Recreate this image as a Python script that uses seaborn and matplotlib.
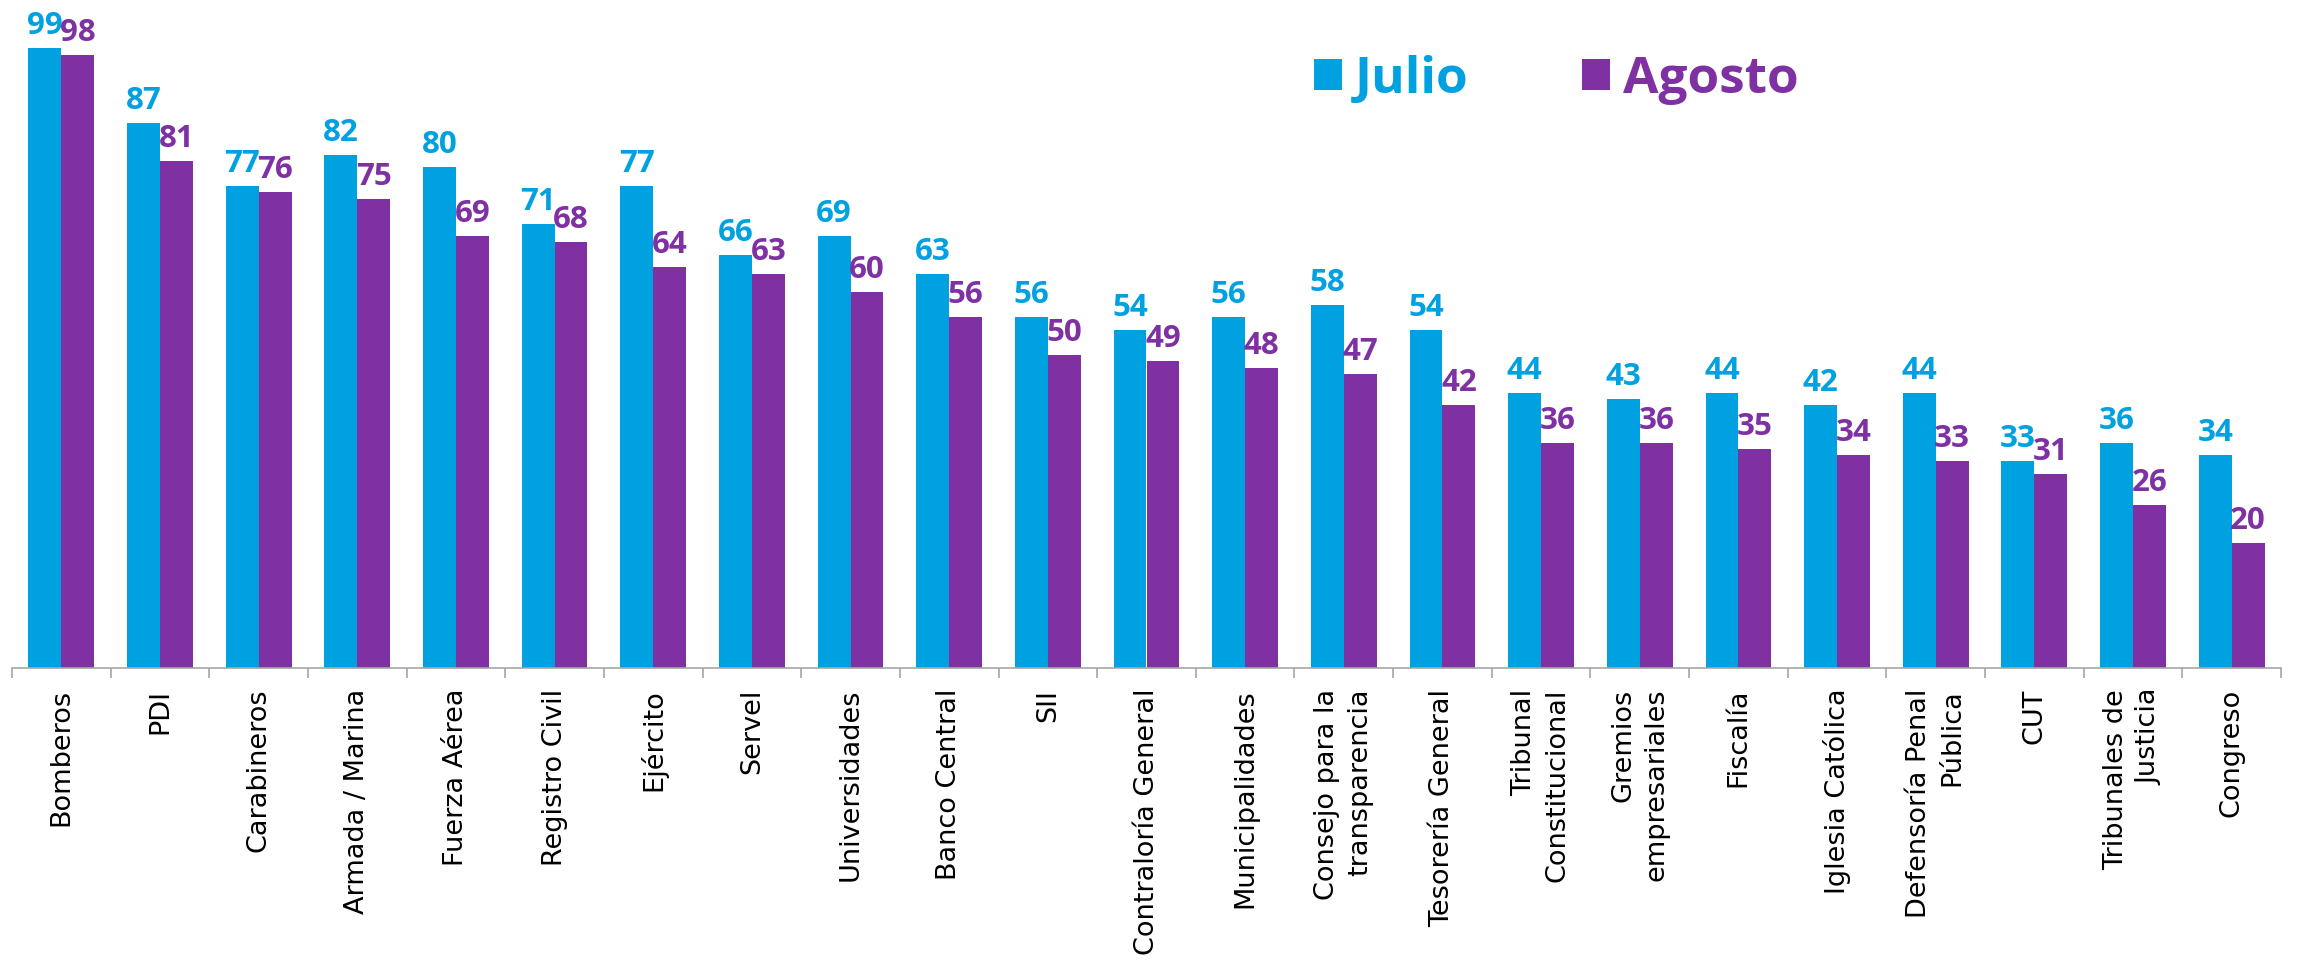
import matplotlib
matplotlib.use("Agg")
import matplotlib.pyplot as plt
import seaborn as sns
import pandas as pd
import numpy as np

categories = ["Bomberos", "PDI", "Carabineros", "Armada / Marina", "Fuerza Aérea",
              "Registro Civil", "Ejército", "Servel", "Universidades", "Banco Central",
              "SII", "Contraloría General", "Municipalidades", "Consejo para la\ntransparencia",
              "Tesorería General", "Tribunal\nConstitucional", "Gremios\nempresariales",
              "Fiscalía", "Iglesia Católica", "Defensoría Penal\nPública", "CUT",
              "Tribunales de\nJusticia", "Congreso"]
julio = [99, 87, 77, 82, 80, 71, 77, 66, 69, 63, 56, 54, 56, 58, 54, 44, 43, 44, 42, 44, 33, 36, 34]
agosto = [98, 81, 76, 75, 69, 68, 64, 63, 60, 56, 50, 49, 48, 47, 42, 36, 36, 35, 34, 33, 31, 26, 20]
series = ["Julio", "Agosto"]
colors = ["#00A1E0", "#7F30A3"]

df = pd.DataFrame({
    "cat": categories * 2,
    "serie": [series[0]] * len(categories) + [series[1]] * len(categories),
    "val": julio + agosto,
})

sns.set_theme(style="white")
plt.rcParams['font.family'] = ['DejaVu Sans']

fig = plt.figure(figsize=(22.98, 9.6), dpi=100)
ax = fig.add_axes([12/2298, 1 - 668/960, 2269/2298, 626/960])

sns.barplot(data=df, x="cat", y="val", hue="serie", palette=colors, width=2/3,
            gap=0, saturation=1, ax=ax, legend=False, edgecolor="none", linewidth=0)

ax.set_xlim(-0.5, len(categories) - 0.5)
ax.set_ylim(0, 100)
ax.set_xlabel("")
ax.set_ylabel("")
ax.set_yticks([])
for s in ["top", "right", "left"]:
    ax.spines[s].set_visible(False)
ax.spines["bottom"].set_color("#A6A6A6")
ax.spines["bottom"].set_linewidth(1.2)

ax.set_xticks(np.arange(len(categories)))
ax.set_xticklabels(categories, rotation=90, ha="center", va="top",
                   multialignment="right", fontsize=19.5, color="black",
                   family="DejaVu Sans", linespacing=1.35)
ax.tick_params(axis="x", which="major", length=0, pad=15)
ax.set_xticks(np.arange(-0.5, len(categories)), minor=True)
ax.tick_params(axis="x", which="minor", length=7, width=1.2, color="#A6A6A6",
               direction="out", bottom=True)

for cont, col in zip(ax.containers, colors):
    ax.bar_label(cont, labels=[f"{int(v)}" for v in cont.datavalues], padding=5,
                 color=col, fontsize=22.5, fontweight="bold", family="Open Sans")

from matplotlib.patches import Patch
handles = [Patch(facecolor=c, edgecolor="none", label=l) for c, l in zip(colors, series)]
leg = fig.legend(handles=handles, ncol=2, frameon=False, loc="center",
                 bbox_to_anchor=(1556/2298, 1 - 80/960),
                 prop={"family": "Open Sans", "weight": "bold", "size": 37},
                 handlelength=0.55, handleheight=0.55, handletextpad=0.25,
                 columnspacing=2.2, borderpad=0)
for t, c in zip(leg.get_texts(), colors):
    t.set_color(c)

fig.savefig("out.png", dpi=100)
